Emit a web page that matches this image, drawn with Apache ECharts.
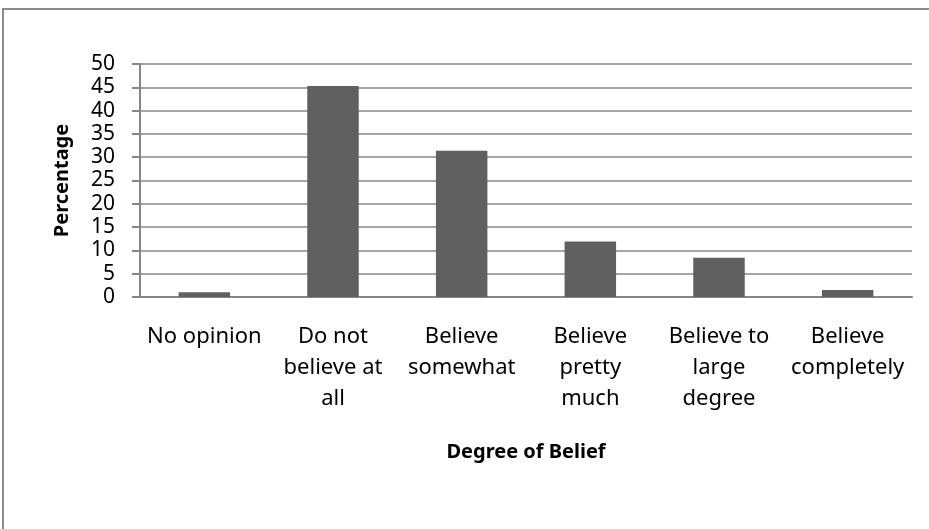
<!DOCTYPE html>
<html>
<head>
<meta charset="utf-8">
<script src="https://cdn.jsdelivr.net/npm/echarts@6/dist/echarts.min.js"></script>
<style>
    html, body { margin: 0; padding: 0; background: #ffffff; }
    #chart { width: 929px; height: 529px; }
</style>
</head>
<body>
<div id="chart"></div>
<script>
// categories (line breaks as printed under each bar)
const categories = [
    'No opinion',
    'Do not\nbelieve at\nall',
    'Believe\nsomewhat',
    'Believe\npretty\nmuch',
    'Believe to\nlarge\ndegree',
    'Believe\ncompletely'
]
// percentage per category
const percentages = [1.0, 45.3, 31.4, 11.9, 8.4, 1.5]
const yTicks = [0, 5, 10, 15, 20, 25, 30, 35, 40, 45, 50]

const font = 'Noto Sans'
const myChart = echarts.init(document.getElementById('chart'))

myChart.setOption({
    animation: false,
    backgroundColor: '#ffffff',
    textStyle: { fontFamily: font, color: '#000000' },
    graphic: [
        {
            type: 'rect',
            shape: { x: 3, y: 9, width: 1000, height: 1000 },
            style: { fill: 'none', stroke: '#8a8a8a', lineWidth: 2 },
            silent: true
        }
    ],
    grid: {
        left: 140,
        right: 17,
        top: 64,
        bottom: 232
    },
    xAxis: {
        type: 'category',
        data: categories,
        name: 'Degree of Belief',
        nameLocation: 'middle',
        nameGap: 145,
        nameTextStyle: {
            fontFamily: font,
            fontSize: 20,
            fontWeight: 'bold',
            color: '#000000'
        },
        axisLine: { lineStyle: { color: '#868686', width: 2 } },
        axisTick: { show: false },
        axisLabel: {
            interval: 0,
            margin: 24,
            fontFamily: font,
            fontSize: 22,
            lineHeight: 31,
            color: '#000000',
            align: 'center'
        }
    },
    yAxis: {
        type: 'value',
        min: yTicks[0],
        max: yTicks[yTicks.length - 1],
        interval: 5,
        name: 'Percentage',
        nameLocation: 'middle',
        nameGap: 68,
        nameTextStyle: {
            fontFamily: font,
            fontSize: 20,
            fontWeight: 'bold',
            color: '#000000'
        },
        axisLine: { show: true, lineStyle: { color: '#868686', width: 2 } },
        axisTick: { show: true, length: 8, lineStyle: { color: '#868686', width: 2 } },
        axisLabel: {
            margin: 25,
            fontFamily: font,
            fontSize: 21,
            color: '#000000'
        },
        splitLine: { lineStyle: { color: '#888888', width: 1.5 } }
    },
    series: [
        {
            type: 'bar',
            data: percentages,
            barWidth: '40%',
            itemStyle: { color: '#606060' }
        }
    ]
})
</script>
</body>
</html>
